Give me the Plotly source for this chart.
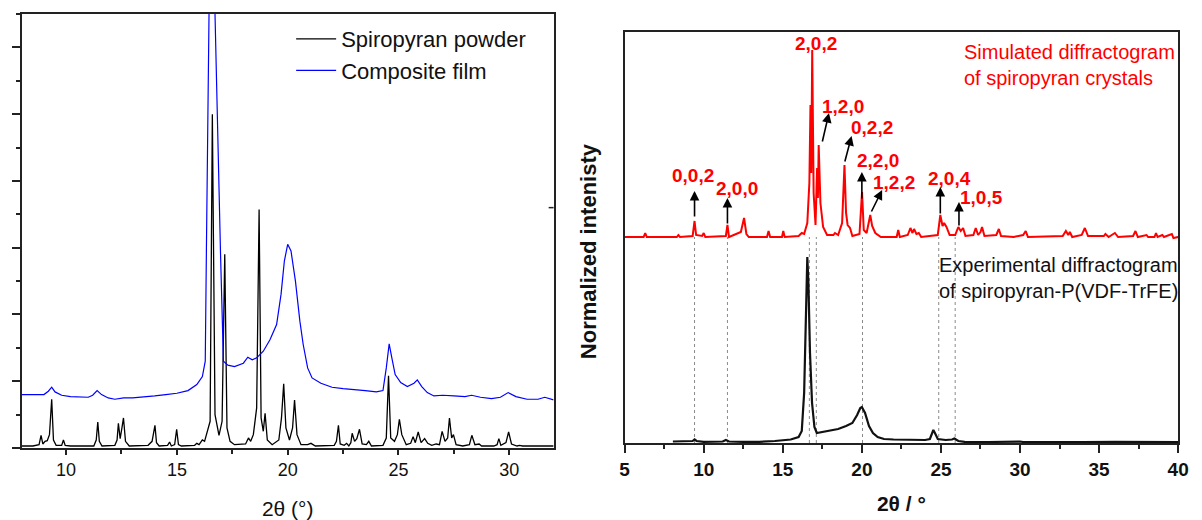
import plotly.graph_objects as go

# ---------------- Left panel: powder vs. composite film ----------------
powder_x = [8.0, 8.5, 8.78, 8.87, 8.95, 9.05, 9.15, 9.25, 9.35, 9.43, 9.55, 9.8, 9.88, 9.96, 10.2,
            11.25, 11.36, 11.43, 11.5, 11.62, 12.2, 12.3, 12.36, 12.44, 12.52, 12.59, 12.68, 12.85,
            13.7, 13.88, 14.01, 14.08, 14.2, 14.58, 14.67, 14.75, 14.9, 14.99, 15.07, 15.2,
            15.8, 15.9, 16.0, 16.15, 16.25, 16.38, 16.5, 16.6, 16.72, 16.9, 17.04, 17.16, 17.26, 17.4,
            17.6, 18.1, 18.23, 18.33, 18.45, 18.6, 18.71, 18.8, 18.9, 18.98, 19.08, 19.3,
            19.6, 19.72, 19.82, 19.92, 20.08, 20.22, 20.31, 20.42, 20.6, 20.9, 21.05, 21.25,
            22.1, 22.2, 22.29, 22.37, 22.55, 22.66, 22.76, 22.85, 22.91, 23.02, 23.12, 23.24, 23.36,
            23.55, 23.66, 23.78, 24.3, 24.45, 24.55, 24.65, 24.82, 24.95, 25.04, 25.15, 25.35,
            25.55, 25.66, 25.76, 25.89, 26.02, 26.18, 26.32, 26.5, 26.7, 26.85, 26.97, 27.1,
            27.22, 27.3, 27.4, 27.48, 27.6, 27.9, 28.2, 28.31, 28.45, 28.64, 28.75, 29.3, 29.45,
            29.53, 29.62, 29.85, 29.97, 30.1, 30.35, 30.46, 30.6, 31.1, 31.7, 32.0]
powder_y = [0.03, 0.03, 0.05, 0.19, 0.06, 0.1, 0.11, 0.2, 0.73, 0.12, 0.04, 0.04, 0.12, 0.04, 0.03,
            0.03, 0.12, 0.39, 0.1, 0.03, 0.04, 0.12, 0.37, 0.14, 0.3, 0.45, 0.1, 0.03,
            0.04, 0.1, 0.34, 0.08, 0.03, 0.04, 0.09, 0.03, 0.05, 0.28, 0.05, 0.03,
            0.04, 0.07, 0.05, 0.12, 0.1, 0.27, 0.4, 5.0, 0.5, 0.19, 0.4, 2.9, 0.3, 0.1,
            0.05, 0.06, 0.15, 0.1, 0.2, 0.6, 3.57, 0.45, 0.25, 0.52, 0.12, 0.05,
            0.12, 0.45, 0.96, 0.3, 0.12, 0.3, 0.72, 0.2, 0.05, 0.05, 0.07, 0.03,
            0.04, 0.1, 0.34, 0.06, 0.04, 0.07, 0.03, 0.08, 0.22, 0.1, 0.14, 0.28, 0.06,
            0.05, 0.1, 0.03, 0.04, 0.15, 1.08, 0.15, 0.1, 0.2, 0.43, 0.2, 0.05,
            0.07, 0.17, 0.08, 0.24, 0.08, 0.14, 0.07, 0.04, 0.06, 0.05, 0.25, 0.1,
            0.15, 0.45, 0.15, 0.2, 0.05, 0.03, 0.05, 0.19, 0.05, 0.06, 0.03, 0.03, 0.05,
            0.14, 0.04, 0.08, 0.24, 0.06, 0.03, 0.04, 0.03, 0.03, 0.03, 0.03]

film_x = [8.0, 8.5, 9.0, 9.2, 9.35, 9.5, 9.8, 10.2, 10.6, 11.0, 11.2, 11.4, 11.6, 11.9, 12.2,
          12.6, 13.0, 13.5, 14.0, 14.5, 15.0, 15.5, 15.9, 16.15, 16.28, 16.33, 16.45, 16.58,
          16.72, 16.97, 17.1, 17.3, 17.6, 18.0, 18.2, 18.4, 18.6, 18.9, 19.2, 19.5, 19.7,
          19.85, 20.0, 20.15, 20.35, 20.55, 20.7, 20.9, 21.1, 21.5, 22.0, 22.5, 23.0, 23.5,
          24.0, 24.3, 24.45, 24.58, 24.7, 24.85, 25.1, 25.4, 25.7, 25.85, 26.05, 26.3, 26.6,
          27.0, 27.5, 28.0, 28.3, 28.7, 29.2, 29.6, 29.95, 30.3, 30.8, 31.3, 31.6, 32.0]
film_y = [0.8, 0.8, 0.8, 0.85, 0.91, 0.84, 0.79, 0.77, 0.76, 0.76, 0.79, 0.86, 0.8, 0.75, 0.73,
          0.75, 0.75, 0.76, 0.78, 0.8, 0.82, 0.86, 0.95, 1.07, 1.3, 2.9, 6.5, 9.0,
          6.5, 2.9, 1.3, 1.24, 1.22, 1.27, 1.36, 1.32, 1.35, 1.45, 1.62, 1.85, 2.3,
          2.8, 3.05, 2.95, 2.5, 1.9, 1.55, 1.2, 1.05, 0.97, 0.91, 0.89, 0.88, 0.86,
          0.84, 0.86, 1.2, 1.56, 1.35, 1.1, 0.98, 0.92, 0.97, 1.02, 0.92, 0.83, 0.78,
          0.79, 0.78, 0.77, 0.79, 0.76, 0.74, 0.76, 0.83, 0.77, 0.73, 0.73, 0.76, 0.72]

# ---------------- Right panel: simulated vs. experimental ----------------
sim_x = [5.0, 6.2, 6.3, 6.4, 8.3, 8.4, 8.5, 9.3, 9.42, 9.52, 9.9, 10.0, 10.1, 11.4, 11.5, 11.6,
         12.35, 12.45, 12.55, 12.7, 12.85, 14.0, 14.1, 14.2, 14.95, 15.03, 15.12, 16.0, 16.2,
         16.35, 16.55, 16.68, 16.75, 16.8, 16.86, 16.95, 17.07, 17.17, 17.22, 17.27, 17.38,
         17.55, 17.8, 18.2, 18.3, 18.5, 18.75, 18.9, 19.0, 19.1, 19.25, 19.4, 19.85, 20.01,
         20.12, 20.3, 20.53, 20.65, 20.85, 21.2, 22.2, 22.3, 22.4, 22.9, 23.07, 23.2, 23.3,
         23.45, 23.6, 23.75, 24.8, 24.96, 25.1, 25.2, 25.35, 25.55, 25.9, 26.1, 26.25, 26.4,
         26.55, 27.05, 27.2, 27.35, 27.5, 27.6, 27.75, 28.5, 28.66, 28.8, 29.6, 30.2, 30.36,
         30.5, 32.7, 32.9, 33.05, 33.15, 33.3, 33.9, 34.1, 34.3, 35.3, 35.4, 35.6, 36.0, 36.2,
         37.15, 37.3, 37.45, 38.0, 38.1, 38.5, 38.6, 38.7, 39.0, 39.1, 39.6, 39.7, 40.0]
sim_y = [2.06, 2.06, 2.1, 2.06, 2.06, 2.08, 2.06, 2.07, 2.22, 2.08, 2.07, 2.1, 2.06, 2.07, 2.18, 2.06,
         2.11, 2.17, 2.25, 2.09, 2.06, 2.06, 2.12, 2.06, 2.06, 2.12, 2.06, 2.07, 2.1,
         2.09, 2.2, 2.6, 3.38, 2.7, 3.93, 2.5, 2.18, 2.75, 2.45, 2.98, 2.4,
         2.16, 2.08, 2.08, 2.1, 2.08, 2.2, 2.78, 2.3, 2.18, 2.15, 2.07, 2.09, 2.51,
         2.13, 2.1, 2.28, 2.17, 2.1, 2.06, 2.06, 2.13, 2.06, 2.08, 2.15, 2.1, 2.14,
         2.09, 2.1, 2.06, 2.08, 2.28, 2.17, 2.2, 2.16, 2.08, 2.08, 2.16, 2.12, 2.15,
         2.07, 2.08, 2.15, 2.08, 2.11, 2.16, 2.07, 2.08, 2.14, 2.07, 2.06, 2.08, 2.12,
         2.06, 2.07, 2.12, 2.08, 2.11, 2.06, 2.08, 2.15, 2.07, 2.07, 2.09, 2.06, 2.1, 2.06,
         2.07, 2.12, 2.06, 2.08, 2.06, 2.06, 2.1, 2.06, 2.08, 2.06, 2.09, 2.05, 2.06]

exp_x = [8.05, 8.5, 9.0, 9.3, 9.42, 9.55, 10.0, 11.2, 11.4, 11.6, 12.5, 13.5, 14.5, 15.0, 15.5,
         16.0, 16.2, 16.35, 16.45, 16.55, 16.62, 16.72, 16.85, 17.0, 17.15, 17.5, 18.0, 18.5,
         19.0, 19.4, 19.7, 19.9, 20.0, 20.2, 20.45, 20.7, 21.0, 21.4, 22.0, 23.0, 24.0, 24.3,
         24.42, 24.52, 24.62, 24.8, 25.3, 25.7, 25.85, 26.1, 26.5, 27.0, 28.0, 30.0, 30.2,
         32.0, 33.5, 34.0, 36.0, 38.0, 40.0]
exp_y = [0.015, 0.015, 0.015, 0.02, 0.035, 0.02, 0.012, 0.015, 0.03, 0.015, 0.012, 0.012, 0.02,
         0.025, 0.035, 0.06, 0.12, 0.5, 1.3, 1.86, 1.6, 0.9, 0.4, 0.16, 0.1, 0.11, 0.12, 0.14,
         0.17, 0.2, 0.28, 0.35, 0.36, 0.3, 0.17, 0.1, 0.06, 0.04, 0.035, 0.03, 0.03, 0.04,
         0.09, 0.13, 0.1, 0.04, 0.03, 0.035, 0.045, 0.02, 0.012, 0.01, 0.01, 0.015, 0.01,
         0.01, 0.015, 0.01, 0.012, 0.012, 0.01]

# Reflections linked to the experimental pattern by dotted guides
guide_x = [9.42, 11.5, 16.68, 17.12, 20.04, 24.86, 25.9]
guide_top = 2.06

# Miller index labels: (label, label x, label y, arrow tail x, tail y, head x, head y)
hkl = [
    ("0,0,2", 9.3, 2.68, 9.42, 2.25, 9.42, 2.52),
    ("2,0,0", 12.1, 2.55, 11.5, 2.18, 11.5, 2.45),
    ("1,2,0", 18.8, 3.37, 17.48, 3.0, 17.92, 3.3),
    ("0,2,2", 20.65, 3.16, 18.9, 2.8, 19.35, 3.07),
    ("2,2,0", 21.0, 2.83, 20.0, 2.43, 20.0, 2.71),
    ("1,2,2", 22.05, 2.61, 20.56, 2.3, 21.28, 2.53),
    ("2,0,4", 25.55, 2.65, 24.96, 2.28, 24.96, 2.56),
    ("1,0,5", 27.55, 2.46, 26.14, 2.16, 26.14, 2.41),
]
top_label = ("2,0,2", 17.1, 4.0)

W, H = 1202, 520
ARIAL = "Arial, Liberation Sans, sans-serif"

fig = go.Figure()
fig.add_trace(go.Scatter(x=powder_x, y=powder_y, mode="lines", name="Spiropyran powder",
                         line=dict(color="#000000", width=1.3), xaxis="x", yaxis="y"))
fig.add_trace(go.Scatter(x=film_x, y=film_y, mode="lines", name="Composite film",
                         line=dict(color="#0000ff", width=1.2), xaxis="x", yaxis="y"))

fig.add_trace(go.Scatter(x=sim_x, y=sim_y, mode="lines", showlegend=False,
                         line=dict(color="#ff0000", width=2), xaxis="x2", yaxis="y2"))
fig.add_trace(go.Scatter(x=exp_x, y=exp_y, mode="lines", showlegend=False,
                         line=dict(color="#111111", width=2.2), xaxis="x2", yaxis="y2"))

shapes = []
for gx in guide_x:
    shapes.append(dict(type="line", xref="x2", yref="y2", x0=gx, x1=gx, y0=0, y1=guide_top,
                       line=dict(color="#8a8a8a", width=1, dash="dot"), layer="below"))
# short extension of the left panel's bottom axis, and its lone right-axis tick
shapes.append(dict(type="line", xref="paper", yref="paper", x0=8 / W, x1=17 / W,
                   y0=1 - 448 / H, y1=1 - 448 / H, line=dict(color="#222", width=1.5)))
shapes.append(dict(type="line", xref="paper", yref="y", x0=551 / W, x1=556 / W,
                   y0=3.6, y1=3.6, line=dict(color="#222", width=1.5)))

annotations = []
for lab, lx, ly, tx, ty, hx, hy in hkl:
    annotations.append(dict(xref="x2", yref="y2", x=hx, y=hy, ax=tx, ay=ty,
                            axref="x2", ayref="y2", text="", showarrow=True,
                            arrowhead=2, arrowsize=1.2, arrowwidth=1.6, arrowcolor="#000"))
    annotations.append(dict(xref="x2", yref="y2", x=lx, y=ly, text=f"<b>{lab}</b>",
                            showarrow=False, font=dict(family=ARIAL, size=19, color="#ff0000")))
annotations.append(dict(xref="x2", yref="y2", x=top_label[1], y=top_label[2],
                        text=f"<b>{top_label[0]}</b>", showarrow=False,
                        font=dict(family=ARIAL, size=19, color="#ff0000")))
annotations.append(dict(xref="paper", yref="paper", x=970 / W, y=1 - 39 / H, xanchor="left",
                        yanchor="top", align="left", showarrow=False,
                        text="Simulated diffractogram<br>of spiropyran crystals",
                        font=dict(family=ARIAL, size=20, color="#ff0000")))
annotations.append(dict(xref="paper", yref="paper", x=945 / W, y=1 - 252 / H, xanchor="left",
                        yanchor="top", align="left", showarrow=False,
                        text="Experimental diffractogram<br>of spiropyran-P(VDF-TrFE)",
                        font=dict(family=ARIAL, size=20, color="#111")))
# vertical axis title of the right panel, sitting a little below the panel's centre
annotations.append(dict(xref="paper", yref="paper", x=591 / W, y=1 - 251 / H,
                        xanchor="center", yanchor="middle", textangle=-90, showarrow=False,
                        text="<b>Normalized intenisty</b>",
                        font=dict(family=ARIAL, size=22, color="#111")))

axis_common = dict(showline=True, linecolor="#222", linewidth=1.5, mirror=True,
                   showgrid=False, zeroline=False)

fig.update_layout(
    width=W, height=H, margin=dict(l=0, r=0, t=0, b=0),
    paper_bgcolor="white", plot_bgcolor="white",
    xaxis=dict(domain=[17 / W, 556 / W], anchor="y", range=[8, 32], dtick=5, tick0=0,
               ticks="outside", ticklen=5, tickwidth=1.5, tickcolor="#222",
               minor=dict(dtick=2.5, ticks="outside", ticklen=4, tickwidth=1.5, tickcolor="#222"),
               tickfont=dict(family=ARIAL, size=18, color="#111"),
               title=dict(text="2θ (°)", font=dict(family=ARIAL, size=21, color="#111"), standoff=22),
               **axis_common),
    yaxis=dict(domain=[1 - 448 / H, 1 - 14 / H], anchor="x", range=[0, 6.5], dtick=1, tick0=0,
               ticks="outside", ticklen=8, tickwidth=1.5, tickcolor="#222", showticklabels=False,
               minor=dict(dtick=0.5, ticks="outside", ticklen=4, tickwidth=1.5, tickcolor="#222"),
               **axis_common),
    xaxis2=dict(domain=[628 / W, 1189 / W], anchor="y2", range=[5, 40], dtick=5, tick0=0,
                ticks="outside", ticklen=8, tickwidth=1.5, tickcolor="#222",
                minor=dict(dtick=2.5, ticks="outside", ticklen=4, tickwidth=1.5, tickcolor="#222"),
                tickfont=dict(family=ARIAL, size=19, color="#111", weight="bold"),
                title=dict(text="<b>2θ / °</b>", font=dict(family=ARIAL, size=21, color="#111"),
                           standoff=18),
                **axis_common),
    yaxis2=dict(domain=[1 - 443 / H, 1 - 32 / H], anchor="x2", range=[0, 4.11],
                showticklabels=False, ticks="", **axis_common),
    legend=dict(x=290 / W, y=1 - 18 / H, xanchor="left", yanchor="top",
                bgcolor="rgba(0,0,0,0)", font=dict(family=ARIAL, size=22, color="#111"),
                tracegroupgap=0, itemwidth=40),
    shapes=shapes, annotations=annotations,
)

fig.write_html("out.html")
